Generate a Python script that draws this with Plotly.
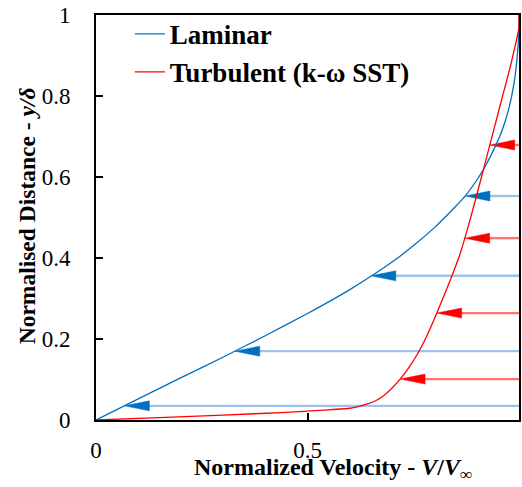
import numpy as np
import plotly.graph_objects as go

# ---- data ----
laminar_x = [0, 0.1, 0.2, 0.3, 0.4, 0.5, 0.6, 0.7, 0.75, 0.8, 0.85, 0.875, 0.9, 0.92, 0.94, 0.96, 0.975, 0.988, 0.996, 1.0, 1.0]
laminar_y = [0, 0.052, 0.104, 0.155, 0.208, 0.263, 0.322, 0.390, 0.430, 0.475, 0.527, 0.556, 0.592, 0.626, 0.667, 0.715, 0.765, 0.830, 0.900, 0.970, 1.0]

turbulent_x = [0, 0.15, 0.30, 0.45, 0.55, 0.60, 0.62, 0.64, 0.66, 0.68, 0.70, 0.72, 0.74, 0.76, 0.78, 0.80, 0.82, 0.84, 0.86, 0.88, 0.90, 0.92, 0.94, 0.96, 0.98, 1.0, 1.0]
turbulent_y = [0, 0.006, 0.012, 0.019, 0.025, 0.029, 0.033, 0.039, 0.047, 0.060, 0.079, 0.102, 0.130, 0.163, 0.203, 0.250, 0.300, 0.352, 0.408, 0.478, 0.555, 0.635, 0.715, 0.795, 0.875, 0.970, 1.0]

laminar_arrow_y = [0.035, 0.170, 0.356, 0.553]
turbulent_arrow_y = [0.101, 0.264, 0.449, 0.679]

x_ticks = [0, 0.5, 1]
x_tick_labels = ["0", "0.5", "1"]
y_ticks = [0, 0.2, 0.4, 0.6, 0.8, 1]
y_tick_labels = ["0", "0.2", "0.4", "0.6", "0.8", "1"]

# ---- styles ----
BLUE = "#0070C0"
BLUE_LIGHT = "#9DC3E6"
RED = "#FF0000"
RED_LIGHT = "#FF7373"
FONT = "Times New Roman, Liberation Serif, serif"
W, H = 522, 487
ML, MR, MT, MB = 96, 1, 15, 67
PW, PH = W - ML - MR, H - MT - MB
HEAD_L = 25 / PW   # arrowhead length in data units
HEAD_H = 5 / PH    # arrowhead half height in data units

fig = go.Figure()

def add_arrows(ys, cx, cy, line_col, head_col):
    for y in ys:
        tip = float(np.interp(y, cy, cx))
        fig.add_trace(go.Scatter(x=[1.0, tip + HEAD_L * 0.9], y=[y, y], mode="lines",
                                 line=dict(color=line_col, width=2.4),
                                 showlegend=False, hoverinfo="skip"))
        fig.add_trace(go.Scatter(x=[tip, tip + HEAD_L, tip + HEAD_L, tip],
                                 y=[y, y + HEAD_H, y - HEAD_H, y],
                                 mode="lines", fill="toself", fillcolor=head_col,
                                 line=dict(color=head_col, width=0.5),
                                 showlegend=False, hoverinfo="skip"))

add_arrows(laminar_arrow_y, laminar_x, laminar_y, BLUE_LIGHT, BLUE)
add_arrows(turbulent_arrow_y, turbulent_x, turbulent_y, RED_LIGHT, RED)

fig.add_trace(go.Scatter(x=laminar_x, y=laminar_y, mode="lines", name="Laminar",
                         line=dict(color=BLUE, width=1.3, shape="spline", smoothing=0.5)))
fig.add_trace(go.Scatter(x=turbulent_x, y=turbulent_y, mode="lines", name="Turbulent (k-ω SST)",
                         line=dict(color=RED, width=1.3, shape="spline", smoothing=0.5)))

axis_common = dict(showline=True, linecolor="black", linewidth=2, mirror=True,
                   ticks="inside", ticklen=7, tickwidth=2, tickcolor="black",
                   showgrid=False, zeroline=False,
                   tickfont=dict(family=FONT, size=23, color="black"))

fig.update_xaxes(range=[0, 1], tickvals=x_ticks, ticktext=x_tick_labels,
                 ticklabelstandoff=8, **axis_common)
fig.update_yaxes(range=[0, 1], tickvals=y_ticks, ticktext=y_tick_labels,
                 ticklabelstandoff=19, **axis_common)

fig.update_layout(
    width=W, height=H,
    margin=dict(l=ML, r=MR, t=MT, b=MB),
    plot_bgcolor="white", paper_bgcolor="white",
    font=dict(family=FONT, color="black"),
    legend=dict(x=0.08, y=1.013, xanchor="left", yanchor="top",
                bgcolor="rgba(0,0,0,0)", traceorder="normal",
                font=dict(family=FONT, size=27, color="black", weight="bold"),
                itemwidth=30, tracegroupgap=0),
    annotations=[
        dict(text="<b>Normalized Velocity - <i>V</i>/<i>V</i><sub>∞</sub></b>",
             xref="paper", yref="paper", x=(334 - ML) / PW, y=-(469 - 420) / PH,
             xanchor="center", yanchor="middle", showarrow=False,
             font=dict(family=FONT, size=24, color="black")),
        dict(text="<b>Normalised Distance - <i>y/δ</i></b>",
             xref="paper", yref="paper", x=-(ML - 27) / PW, y=(420 - 216) / PH,
             xanchor="center", yanchor="middle", showarrow=False, textangle=-90,
             font=dict(family=FONT, size=23.5, color="black")),
    ],
)

fig.write_html("out.html")
